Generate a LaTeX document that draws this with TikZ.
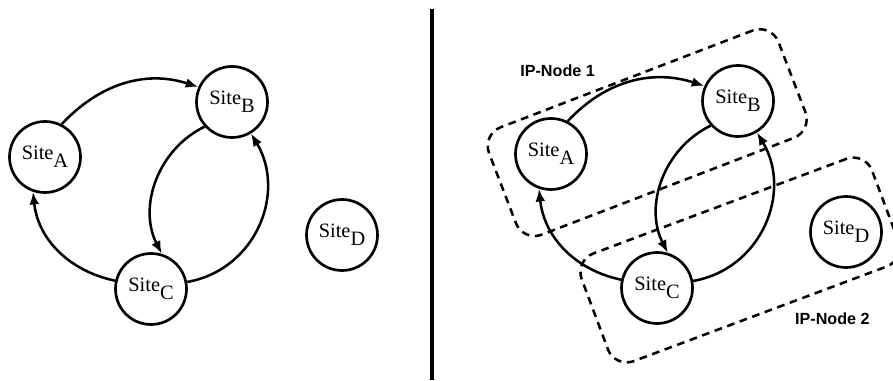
\documentclass[tikz,border=0pt]{standalone}
\usepackage{fontspec}
\setmainfont{Liberation Serif}
\setsansfont{Liberation Sans}
\usetikzlibrary{arrows.meta}

\newcommand{\site}[1]{Site\raisebox{-5.5pt}{#1}}

\begin{document}
\begin{tikzpicture}[thick,
    site/.style = {draw, circle, line width=1.9pt, minimum size=1.775cm, inner sep=0pt, font=\fontsize{14.5}{16}\selectfont},
    link/.style = {-{Latex[length=9pt,width=7pt]}, line width=1.8pt},
    ipnode/.style = {draw, dash pattern=on 5.5pt off 4pt, line width=1.8pt, rounded corners=0.5cm, minimum width=7.75cm, minimum height=2.875cm},
    lbl/.style = {font=\sffamily\bfseries\fontsize{11.5}{13}\selectfont}]

\useasboundingbox (0,0) rectangle (22.325,9.5);

% sites without IP-Nodes
\node[site] (A) at (1.125,5.575) {\site{A}};
\node[site] (B) at (5.8,6.95) {\site{B}};
\node[site] (C) at (3.775,2.275) {\site{C}};
\node[site] (D) at (8.55,3.625) {\site{D}};
\draw[link] (A.63) to[out=47,in=162] (B.156);
\draw[link] (B.222) to[out=206,in=117] (C.73);
\draw[link] (C.167) to[out=168,in=276] (A.251);
\draw[link] (C.11) to[out=10,in=301,looseness=1.1] (B.301);

% separator
\coordinate (top) at (10.8,9.275);
\coordinate (bottom) at (10.8,0);
\draw[line width=3pt] (top) -- (bottom);

% same sites grouped in IP-Nodes
\node[site] (A2) at (13.775,5.65) {\site{A}};
\node[site] (B2) at (18.45,6.975) {\site{B}};
\node[site] (C2) at (16.425,2.3) {\site{C}};
\node[site] (D2) at (21.15,3.7) {\site{D}};
\draw[link] (A2.63) to[out=47,in=162] (B2.156);
\draw[link] (B2.222) to[out=206,in=117] (C2.73);
\draw[link] (C2.167) to[out=168,in=276] (A2.251);
\draw[link] (C2.11) to[out=10,in=301,looseness=1.1] (B2.301);

\node[ipnode, rotate=21] (ip1) at (16.18,6.185) {};
\node[ipnode, rotate=20.5] (ip2) at (18.5,3.0) {};
\node[lbl] (l1) at (13.94,7.725) {IP-Node 1};
\node[lbl] (l2) at (20.81,1.525) {IP-Node 2};
\end{tikzpicture}
\end{document}
